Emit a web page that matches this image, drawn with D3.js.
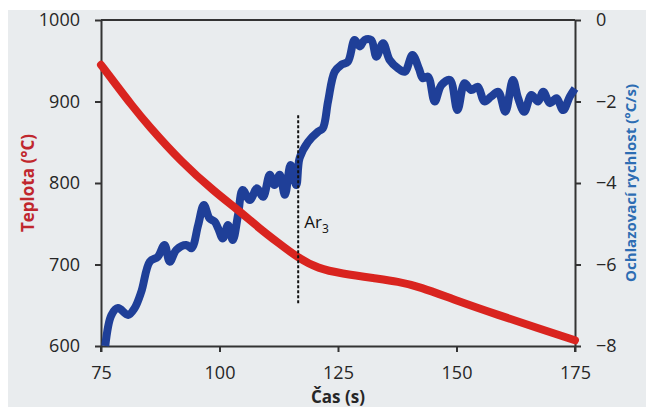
<!DOCTYPE html>
<html>
<head>
<meta charset="utf-8">
<script src="https://cdn.jsdelivr.net/npm/d3@7"></script>
<style>
  body { margin: 0; background: #fff; }
  svg { display: block; }
</style>
</head>
<body>
<div id="chart"></div>
<script>
// temperature curve (left axis, °C)
var tempTime = [75, 78, 81.4, 84.9, 91.9, 99, 103.9, 108.3, 112.3, 116.6, 120.8, 125.7, 132.7, 137.7, 142.1, 150.3, 158.8, 167.2, 175];
var tempVal  = [945, 922, 896, 871, 826, 789, 767, 745, 727, 708, 695, 689, 683, 679, 673, 655, 638, 622, 607];

// cooling rate curve (right axis, °C/s)
var rateTime = [75.9, 77.2, 78.6, 80.7, 82.1, 83.5, 85.3, 87, 88.4, 89.5, 90.9, 93, 94.1, 95.5, 96.7, 97.9, 99, 99.7, 100.7, 101.8, 102.8, 103.9, 104.9, 106.4, 107.9, 109.2, 110.6, 111.6, 112.7, 113.8, 115, 116.2, 116.9, 118.7, 120.8, 121.8, 122.9, 124.3, 125.7, 127.1, 128.5, 129.6, 130.6, 132, 133.1, 134.5, 135.9, 137.7, 139.1, 140.7, 142.1, 142.9, 144, 145.4, 146.8, 148.6, 150.2, 151.7, 153.1, 154.5, 155.9, 157.3, 158.8, 160.3, 161.9, 163, 164.3, 165.8, 167.2, 168.3, 169.7, 171.1, 172.5, 173.9, 175];
var rateVal  = [-8.0, -7.24, -7.07, -7.24, -7.07, -6.67, -5.93, -5.81, -5.52, -5.93, -5.64, -5.52, -5.6, -5.03, -4.54, -4.87, -4.95, -5.11, -5.36, -5.03, -5.4, -4.79, -4.17, -4.42, -4.13, -4.34, -3.8, -4.05, -3.8, -4.29, -3.56, -4.05, -3.39, -2.99, -2.74, -2.66, -2.0, -1.27, -1.1, -1.02, -0.49, -0.65, -0.49, -0.49, -0.9, -0.57, -0.98, -1.19, -1.27, -0.86, -1.2, -1.43, -1.39, -2.0, -1.6, -1.47, -2.21, -1.55, -1.72, -1.64, -2.0, -1.88, -1.76, -2.25, -1.47, -1.92, -2.25, -1.84, -2.0, -1.76, -2.04, -1.92, -2.21, -1.88, -1.68];

var xTicks = [75, 100, 125, 150, 175];
var leftTicks = [600, 700, 800, 900, 1000];
var rightTicks = [-8, -6, -4, -2, 0];
var ar3Time = 116.6, ar3From = 883, ar3To = 650;

var width = 646, height = 407;
var margin = {top: 20, right: 71, bottom: 61, left: 101};

var svg = d3.select("#chart").append("svg")
    .attr("width", width)
    .attr("height", height);

// grey photo-like backdrop with white strip at top/left
svg.append("rect").attr("width", width).attr("height", height).attr("fill", "#fff");
svg.append("rect").attr("x", 8).attr("y", 10).attr("width", width - 8).attr("height", height - 10).attr("fill", "#e9ecee");

var x = d3.scaleLinear().domain([75, 175]).range([margin.left, width - margin.right]);
var yL = d3.scaleLinear().domain([600, 1000]).range([height - margin.bottom, margin.top]);
var yR = d3.scaleLinear().domain([-8, 0]).range([height - margin.bottom, margin.top]);

var font = "'Open Sans', 'Liberation Sans', sans-serif";

// frame top line
svg.append("line")
    .attr("x1", x(75)).attr("x2", x(175))
    .attr("y1", yL(1000)).attr("y2", yL(1000))
    .attr("stroke", "#333").attr("stroke-width", 2);

function styleAxis(g) {
    g.select(".domain").attr("stroke", "#333").attr("stroke-width", 2);
    g.selectAll(".tick line").attr("stroke", "#333").attr("stroke-width", 2);
    g.selectAll(".tick text").attr("fill", "#262626").style("font-family", font).style("font-size", "18px");
}

svg.append("g")
    .attr("transform", "translate(0," + yL(600) + ")")
    .call(d3.axisBottom(x).tickValues(xTicks).tickSize(6).tickSizeOuter(0).tickPadding(14).tickFormat(d3.format("d")))
    .call(styleAxis);

svg.append("g")
    .attr("transform", "translate(" + x(75) + ",0)")
    .call(d3.axisLeft(yL).tickValues(leftTicks).tickSize(6).tickSizeOuter(0).tickPadding(15).tickFormat(d3.format("d")))
    .call(styleAxis);

svg.append("g")
    .attr("transform", "translate(" + x(175) + ",0)")
    .call(d3.axisRight(yR).tickValues(rightTicks).tickSize(6).tickSizeOuter(0).tickPadding(15).tickFormat(d3.format("d")))
    .call(styleAxis);

// small downward extension of side axes
[75, 175].forEach(function(t) {
    svg.append("line")
        .attr("x1", x(t)).attr("x2", x(t))
        .attr("y1", yL(600)).attr("y2", yL(600) + 6)
        .attr("stroke", "#333").attr("stroke-width", 2);
});

var tempData = tempTime.map(function(t, i) { return {t: t, v: tempVal[i]}; });
var rateData = rateTime.map(function(t, i) { return {t: t, v: rateVal[i]}; });

var tempLine = d3.line()
    .x(function(d) { return x(d.t); })
    .y(function(d) { return yL(d.v); })
    .curve(d3.curveBasis);

var rateLine = d3.line()
    .x(function(d) { return x(d.t); })
    .y(function(d) { return yR(d.v); })
    .curve(d3.curveCatmullRom.alpha(0.5));

svg.append("path")
    .datum(rateData)
    .attr("d", rateLine)
    .attr("fill", "none")
    .attr("stroke", "#1f3f98")
    .attr("stroke-width", 8)
    .attr("stroke-linejoin", "round");

svg.append("path")
    .datum(tempData)
    .attr("d", tempLine)
    .attr("fill", "none")
    .attr("stroke", "#d9241f")
    .attr("stroke-width", 8)
    .attr("stroke-linecap", "round");

// Ar3 marker
svg.append("line")
    .attr("x1", x(ar3Time)).attr("x2", x(ar3Time))
    .attr("y1", yL(ar3From)).attr("y2", yL(ar3To))
    .attr("stroke", "#111").attr("stroke-width", 2)
    .attr("stroke-dasharray", "3,2");

var ar = svg.append("text")
    .attr("x", x(ar3Time) + 6)
    .attr("y", yL(745))
    .attr("fill", "#111")
    .style("font-family", font)
    .style("font-size", "17px");
ar.append("tspan").text("Ar");
ar.append("tspan").attr("dy", 5).style("font-size", "12px").text("3");

// axis titles
svg.append("text")
    .attr("transform", "translate(34," + (margin.top + (height - margin.top - margin.bottom) / 2) + ") rotate(-90)")
    .attr("text-anchor", "middle")
    .attr("fill", "#c0272d")
    .style("font-family", font)
    .style("font-weight", "bold")
    .style("font-size", "17px")
    .text("Teplota (°C)");

svg.append("text")
    .attr("transform", "translate(636," + (margin.top + (height - margin.top - margin.bottom) / 2) + ") rotate(-90)")
    .attr("text-anchor", "middle")
    .attr("fill", "#2d6db3")
    .style("font-family", font)
    .style("font-weight", "bold")
    .style("font-size", "15px")
    .text("Ochlazovací rychlost (°C/s)");

svg.append("text")
    .attr("x", (x(75) + x(175)) / 2)
    .attr("y", 403)
    .attr("text-anchor", "middle")
    .attr("fill", "#262626")
    .style("font-family", font)
    .style("font-weight", "bold")
    .style("font-size", "17px")
    .text("Čas (s)");
</script>
</body>
</html>
